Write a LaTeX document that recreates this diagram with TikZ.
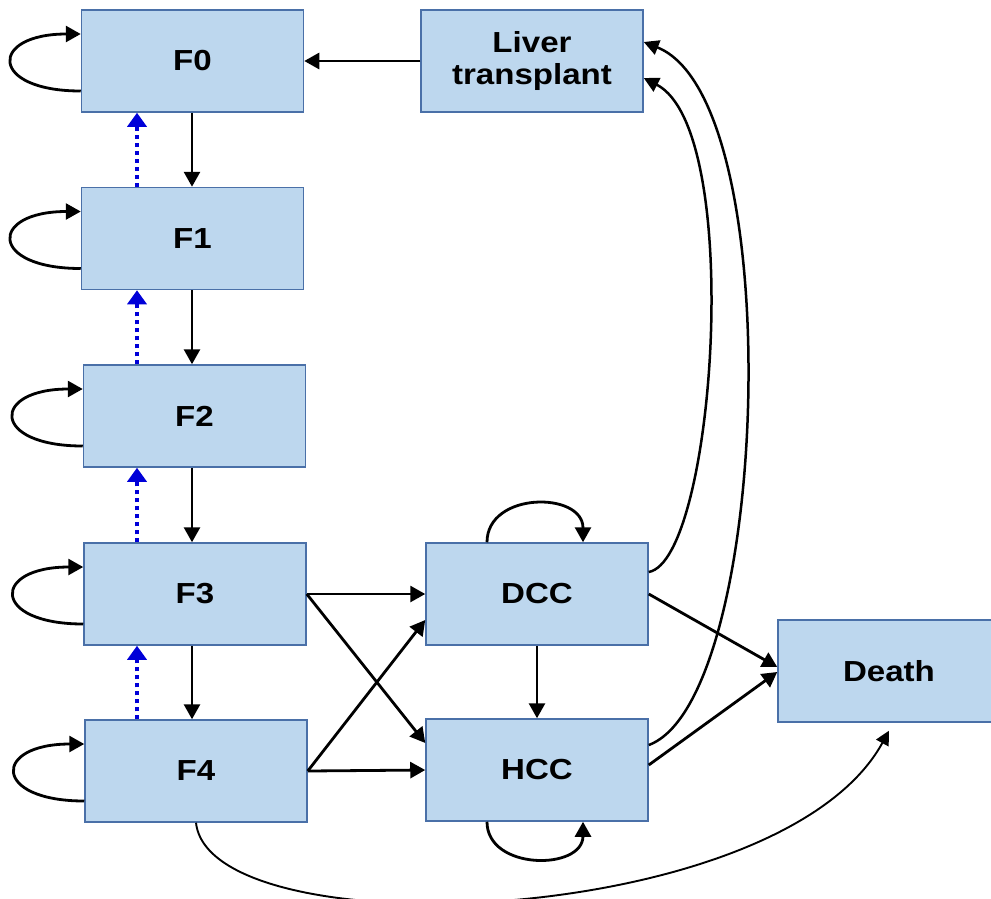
\documentclass[tikz,border=0pt]{standalone}
\usepackage{fontspec}
\setmainfont{Liberation Sans}
\usetikzlibrary{arrows.meta}
\definecolor{boxfill}{HTML}{BDD7EE}
\definecolor{boxline}{HTML}{4A70A8}
\definecolor{dotblue}{HTML}{0000D8}
\newcommand\sx[1]{\scalebox{1.14}[1]{#1}}
\begin{document}
\begin{tikzpicture}[x=1pt,y=-1pt,
  state/.style={draw=boxline,fill=boxfill,line width=1.5pt,minimum width=222pt,minimum height=102pt,inner sep=0pt,font=\fontsize{29}{32}\selectfont\bfseries,align=center},
  arr/.style={line width=2.8pt,-{Triangle[length=15pt,width=16pt]}},
  thinarr/.style={line width=2.5pt,-{Triangle[length=15pt,width=15pt]}},
  curvearr/.style={line width=1.9pt,-{Triangle[length=14pt,width=14pt]}},
  bluearr/.style={draw=dotblue,line width=4.5pt,dash pattern=on 4pt off 4pt,-{Triangle[length=14pt,width=19pt,fill=dotblue]}},
]
\useasboundingbox (0,0) rectangle (991,898);
\clip (0,0) rectangle (991,898);
\node[state] (F0) at (192.5,61) {\sx{F0}};
\node[state] (F1) at (192.5,238.5) {\sx{F1}};
\node[state] (F2) at (194.5,416) {\sx{F2}};
\node[state] (F3) at (195,594) {\sx{F3}};
\node[state] (F4) at (196,771) {\sx{F4}};
\node[state] (LT) at (532,61) {\sx{Liver}\\\sx{transplant}};
\node[state] (DCC) at (537,594) {\sx{DCC}};
\node[state] (HCC) at (537,770) {\sx{HCC}};
\node[state] (D) at (889,671) {\sx{Death}};
\coordinate (cx) at (192,0);
\coordinate (bx) at (137,0);
% vertical chain
\draw[arr] (F0.south -| cx) -- (F1.north -| cx);
\draw[arr] (F1.south -| cx) -- (F2.north -| cx);
\draw[arr] (F2.south -| cx) -- (F3.north -| cx);
\draw[arr] (F3.south -| cx) -- (F4.north -| cx);
\draw[bluearr] (F1.north -| bx) -- (F0.south -| bx);
\draw[bluearr] (F2.north -| bx) -- (F1.south -| bx);
\draw[bluearr] (F3.north -| bx) -- (F2.south -| bx);
\draw[bluearr] (F4.north -| bx) -- (F3.south -| bx);
% self loops on F states
\foreach \n in {F0,F1,F2,F3,F4}{
  \draw[arr] ([yshift=-30pt]\n.west) .. controls +(-92,0) and +(-92,0) .. ([yshift=27pt]\n.west);
}
% transplant to F0
\draw[arr] (LT.west) -- (F0.east);
% F3, F4 to DCC, HCC
\draw[arr] (F3.east) -- (DCC.west);
\draw[arr] (F3.east) -- ([yshift=27pt]HCC.west);
\draw[arr] (F4.east) -- (HCC.west);
\draw[arr] (F4.east) -- ([yshift=-26pt]DCC.west);
\draw[arr] (DCC.south) -- (HCC.north);
% to death
\draw[arr] (DCC.east) -- ([yshift=4pt]D.west);
\draw[arr] ([yshift=5pt]HCC.east) -- ([yshift=-1pt]D.west);
% loops on DCC, HCC
\draw[arr] ([xshift=-50pt]DCC.north) .. controls +(0,-51) and +(0,-51) .. ([xshift=46pt]DCC.north);
\draw[arr] ([xshift=-50pt]HCC.south) .. controls +(0,49) and +(0,49) .. ([xshift=46pt]HCC.south);
% to liver transplant
\draw[thinarr] ([yshift=22pt]DCC.east) .. controls (715,560) and (745,130) .. ([yshift=-17pt]LT.east);
\draw[thinarr] ([yshift=25pt]HCC.east) .. controls (770,700) and (790,100) .. ([yshift=19pt]LT.east);
% F4 to death
\draw[curvearr] (F4.south) .. controls (210,950) and (780,930) .. ([yshift=-8pt]D.south);
\end{tikzpicture}
\end{document}
